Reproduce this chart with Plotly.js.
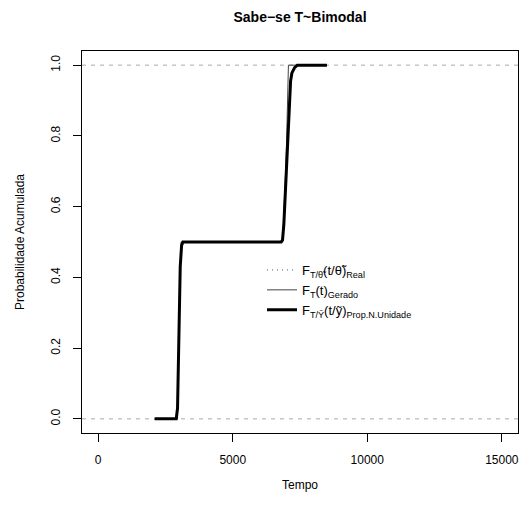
<!DOCTYPE html>
<html>
<head>
<meta charset="utf-8">
<script src="https://cdn.plot.ly/plotly-3.0.1.min.js"></script>
<style>html,body{margin:0;padding:0;background:#fff;}#chart{width:522px;height:506px;}</style>
</head>
<body>
<div id="chart"></div>
<script>
// Real (theoretical) CDF
const realX = [2100, 2900, 2950, 3000, 3050, 3100, 3150, 6800, 6850, 6900, 6950, 7000, 7050, 7100, 7150, 7200, 7300, 7400, 8500];
const realY = [0, 0, 0.03, 0.22, 0.43, 0.49, 0.5, 0.5, 0.505, 0.56, 0.65, 0.74, 0.84, 0.93, 0.97, 0.985, 0.995, 1.0, 1.0];
// Generated (empirical) CDF
const geradoX = [2100, 2950, 3000, 3050, 3080, 6850, 6900, 6950, 7000, 7050, 7070, 8500];
const geradoY = [0, 0, 0.25, 0.48, 0.5, 0.5, 0.57, 0.67, 0.78, 0.9, 1.0, 1.0];
// Proportion N. Unidade CDF
const propX = [2100, 2900, 2950, 3000, 3050, 3100, 3150, 6800, 6850, 6900, 6950, 7000, 7050, 7100, 7150, 7200, 7300, 7400, 8500];
const propY = [0, 0, 0.03, 0.22, 0.43, 0.49, 0.5, 0.5, 0.505, 0.55, 0.63, 0.72, 0.82, 0.91, 0.955, 0.978, 0.993, 1.0, 1.0];

const refLines = [0, 1];
const xTicks = [0, 5000, 10000, 15000];
const yTicks = [0, 0.2, 0.4, 0.6, 0.8, 1.0];
const yTickText = ["0.0", "0.2", "0.4", "0.6", "0.8", "1.0"];
const names = [
  "F<sub>T/θ̃</sub>(t/θ̃)<sub>Real</sub>",
  "F<sub>T</sub>(t)<sub>Gerado</sub>",
  "F<sub>T/Ỹ</sub>(t/ỹ)<sub>Prop.N.Unidade</sub>"
];

const font = "Liberation Sans, Arial, Helvetica, sans-serif";

const traces = [
  {x: realX, y: realY, type: "scatter", mode: "lines", name: names[0],
   line: {color: "#555", width: 1, dash: "1px,4px"}},
  {x: geradoX, y: geradoY, type: "scatter", mode: "lines", name: names[1],
   line: {color: "#444", width: 1}},
  {x: propX, y: propY, type: "scatter", mode: "lines", name: names[2],
   line: {color: "#000", width: 3}}
];

const shapes = refLines.map(v => ({
  type: "line", xref: "paper", x0: 0, x1: 1, yref: "y", y0: v, y1: v,
  line: {color: "#aaaaaa", width: 1, dash: "4px,5px"}, layer: "below"
}));

const layout = {
  width: 522, height: 506,
  margin: {l: 82, r: 4, t: 51, b: 73},
  paper_bgcolor: "#fff", plot_bgcolor: "#fff",
  font: {family: font, color: "#000", size: 12},
  title: {text: "<b>Sabe−se T~Bimodal</b>", x: 300/522, xanchor: "center",
          xref: "container", yref: "container", y: 1 - 17/506, yanchor: "middle",
          font: {size: 14, family: font}},
  xaxis: {range: [-600, 15600], tickvals: xTicks, ticktext: xTicks.map(String),
          ticks: "outside", ticklen: 8, tickcolor: "#000", showline: true, mirror: true,
          linecolor: "#000", linewidth: 1, showgrid: false, zeroline: false,
          ticklabelstandoff: 8,
          title: {text: "Tempo", standoff: 14, font: {size: 12}}},
  yaxis: {range: [-0.04, 1.04], tickvals: yTicks, ticktext: yTickText, tickangle: -90,
          ticks: "outside", ticklen: 8, tickcolor: "#000", showline: true, mirror: true,
          linecolor: "#000", linewidth: 1, showgrid: false, zeroline: false,
          ticklabelstandoff: 8,
          title: {text: "Probabilidade Acumulada", standoff: 22, font: {size: 12}}},
  shapes: shapes,
  showlegend: true,
  legend: {x: (262-82)/436, xanchor: "left", y: (433-255)/382, yanchor: "top",
           bgcolor: "rgba(0,0,0,0)", borderwidth: 0, font: {size: 13, family: font},
           tracegroupgap: 0}
};

Plotly.newPlot("chart", traces, layout, {displayModeBar: false, staticPlot: true});
</script>
</body>
</html>
